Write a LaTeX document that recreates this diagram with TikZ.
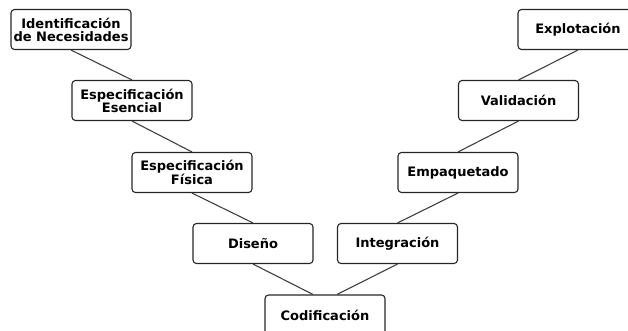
\documentclass[tikz,border=0pt]{standalone}
\usepackage{fontspec}
\setmainfont{DejaVu Sans}

\tikzset{
  Fase/.style={draw=black!85, line width=1.1pt, rounded corners=3.5pt,
    minimum width=120pt, minimum height=40pt, inner sep=0pt, align=center,
    font=\bfseries\fontsize{13}{13}\selectfont},
  Enlace/.style={draw=black!75, line width=1.1pt}
}

\begin{document}
\begin{tikzpicture}[x=1pt,y=-1pt]
    \clip (0,0) rectangle (628,330);
    % rama de analisis y diseno
    \node[Fase] (ident)  at (71,29.5)  {Identificación\\de Necesidades};
    \node[Fase] (esenc)  at (132,100.5) {Especificación\\Esencial};
    \node[Fase] (fisica) at (192,172.5) {Especificación\\Física};
    \node[Fase] (diseno) at (253,243.5) {Diseño};
    \node[Fase] (codif)  at (325,315)   {Codificación};
    % rama de pruebas y entrega
    \node[Fase] (integ)  at (397.5,243.5) {Integración};
    \node[Fase] (empaq)  at (458,172.5)   {Empaquetado};
    \node[Fase] (valid)  at (518.5,100.5) {Validación};
    \node[Fase] (explot) at (578,29.5)    {Explotación};
    \draw[Enlace] (ident.south) -- (esenc.north);
    \draw[Enlace] (esenc.south) -- (fisica.north);
    \draw[Enlace] (fisica.south) -- (diseno.north);
    \draw[Enlace] (diseno.south) -- ([xshift=-12pt]codif.north);
    \draw[Enlace] (integ.south) -- ([xshift=12pt]codif.north);
    \draw[Enlace] (integ.north) -- (empaq.south);
    \draw[Enlace] (empaq.north) -- (valid.south);
    \draw[Enlace] (valid.north) -- (explot.south);
\end{tikzpicture}
\end{document}
